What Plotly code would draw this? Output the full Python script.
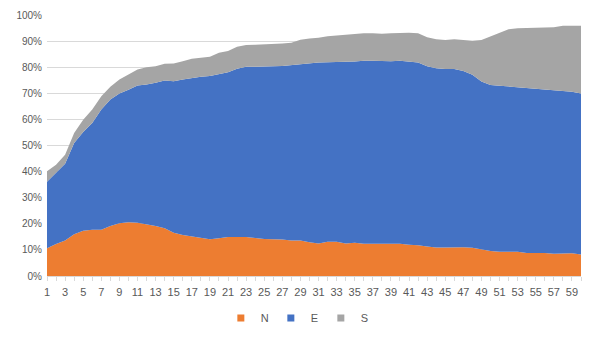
import plotly.graph_objects as go

x = list(range(1, 61))
N = [10.6, 12.3, 13.6, 16.0, 17.3, 17.7, 17.7, 19.2, 20.2, 20.6,
     20.4, 19.8, 19.2, 18.3, 16.6, 15.7, 15.2, 14.7, 14.1, 14.5,
     14.9, 14.9, 14.9, 14.6, 14.2, 14.1, 14.0, 13.6, 13.6, 12.9,
     12.5, 13.1, 13.1, 12.5, 12.7, 12.4, 12.4, 12.4, 12.4, 12.4,
     12.0, 11.8, 11.3, 10.9, 10.9, 11.0, 11.0, 10.8, 10.1, 9.6,
     9.3, 9.3, 9.3, 8.8, 8.8, 8.8, 8.5, 8.7, 8.7, 8.2]
E = [25.5, 27.1, 29.4, 35.0, 37.9, 40.9, 46.1, 48.4, 49.7, 50.8,
     52.6, 53.6, 54.8, 56.6, 58.0, 59.6, 60.7, 61.6, 62.5, 63.0,
     63.2, 64.5, 65.3, 65.6, 66.0, 66.3, 66.5, 67.2, 67.6, 68.7,
     69.3, 68.8, 69.0, 69.6, 69.5, 70.1, 70.1, 69.9, 69.9, 70.1,
     70.2, 70.0, 69.1, 68.7, 68.4, 68.3, 67.5, 66.3, 64.4, 63.6,
     63.6, 63.3, 63.0, 63.4, 63.0, 62.6, 62.6, 62.2, 61.9, 61.7]
S = [4.0, 3.2, 3.5, 3.8, 4.7, 5.2, 5.1, 4.9, 5.4, 5.8,
     6.1, 6.6, 6.4, 6.4, 6.8, 7.0, 7.3, 7.3, 7.4, 8.0,
     8.1, 8.4, 8.3, 8.4, 8.5, 8.6, 8.6, 8.6, 9.3, 9.4,
     9.5, 10.0, 10.1, 10.2, 10.4, 10.5, 10.5, 10.5, 10.7, 10.7,
     11.0, 11.2, 11.1, 11.1, 11.1, 11.4, 11.8, 13.0, 15.9, 18.5,
     20.3, 21.9, 22.6, 22.8, 23.5, 24.0, 24.2, 25.0, 25.3, 26.0]

series = [("N", N, "#ED7D31"), ("E", E, "#4472C4"), ("S", S, "#A5A5A5")]

fig = go.Figure()
for name, vals, col in series:
    fig.add_trace(go.Scatter(
        x=x, y=vals, name=name, mode="lines", stackgroup="one", showlegend=False,
        line=dict(width=0, color=col),
        fillcolor=col,
    ))
for name, vals, col in series:
    fig.add_trace(go.Scatter(
        x=[None], y=[None], name=name, mode="markers",
        marker=dict(symbol="square", size=7, color=col),
    ))

fig.update_layout(
    width=602, height=338,
    margin=dict(l=47, r=21, t=15, b=62, autoexpand=False),
    paper_bgcolor="white", plot_bgcolor="white",
    font=dict(family="Liberation Sans, Arial, sans-serif", size=10, color="#595959"),
    showlegend=True,
    legend=dict(orientation="h", x=0.466, xanchor="center", y=-0.161, yanchor="middle",
                font=dict(size=11, color="#595959"), itemwidth=30, traceorder="normal",
                entrywidth=5, tracegroupgap=0),
)
fig.update_xaxes(
    range=[1, 60], tick0=1, dtick=2, ticks="outside", ticklen=4, tickcolor="#D9D9D9",
    showline=True, linecolor="#D9D9D9", showgrid=False, zeroline=False,
    minor=dict(dtick=1, tick0=1, ticks="outside", ticklen=4, tickcolor="#D9D9D9", showgrid=False),
    tickfont=dict(size=11, color="#595959"), automargin=False, ticklabelstandoff=2,
)
fig.update_yaxes(
    range=[0, 100], dtick=10, ticksuffix="%", showgrid=True, gridcolor="#D9D9D9",
    zeroline=False, showline=False, tickfont=dict(size=10, color="#595959"),
    automargin=False, ticklabelstandoff=4,
)

fig.write_html("out.html")
